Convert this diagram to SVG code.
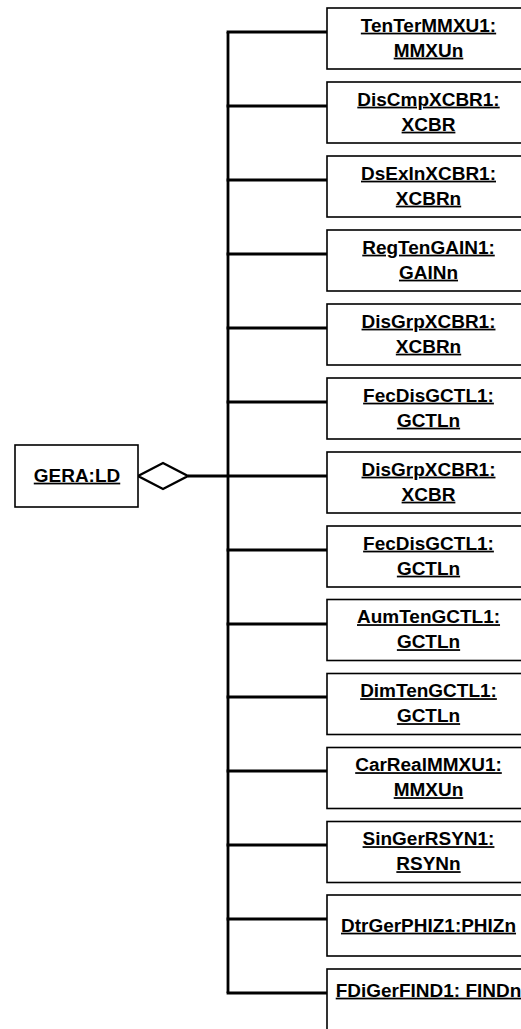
<svg xmlns="http://www.w3.org/2000/svg" width="521" height="1029" viewBox="0 0 521 1029">
<style>
.box{fill:#fff;stroke:#000;stroke-width:1.6}
.lbl{font-family:"Liberation Sans",Arial,sans-serif;font-weight:bold;font-size:17.5px;fill:#000;text-anchor:middle;text-decoration:underline}
.con{stroke:#000;stroke-width:2.8;fill:none}
</style>
<g id="connectors">
<line class="con" x1="228" y1="32" x2="228" y2="993"/>
<line class="con" x1="226.6" y1="32" x2="327" y2="32"/>
<line class="con" x1="226.6" y1="106" x2="327" y2="106"/>
<line class="con" x1="226.6" y1="180" x2="327" y2="180"/>
<line class="con" x1="226.6" y1="254" x2="327" y2="254"/>
<line class="con" x1="226.6" y1="328" x2="327" y2="328"/>
<line class="con" x1="226.6" y1="402" x2="327" y2="402"/>
<line class="con" x1="188" y1="476" x2="327" y2="476"/>
<line class="con" x1="226.6" y1="550" x2="327" y2="550"/>
<line class="con" x1="226.6" y1="624" x2="327" y2="624"/>
<line class="con" x1="226.6" y1="697" x2="327" y2="697"/>
<line class="con" x1="226.6" y1="771" x2="327" y2="771"/>
<line class="con" x1="226.6" y1="845" x2="327" y2="845"/>
<line class="con" x1="226.6" y1="919" x2="327" y2="919"/>
<line class="con" x1="226.6" y1="993" x2="327" y2="993"/>
<polygon points="138,476 163,463 188,476 163,489" fill="#fff" stroke="#000" stroke-width="2.4" stroke-linejoin="miter"/>
</g>
<g id="gera">
<rect class="box" x="15" y="445" width="123" height="62"/>
<text class="lbl" transform="translate(77,481.7) scale(1.085,1)">GERA:LD</text>
</g>
<g id="n1">
<rect class="box" x="327" y="8" width="204" height="61"/>
<text class="lbl" transform="translate(428.5,31.7) scale(1.085,1)">TenTerMMXU1:</text>
<text class="lbl" transform="translate(428.5,56.7) scale(1.085,1)">MMXUn</text>
</g>
<g id="n2">
<rect class="box" x="327" y="82" width="204" height="61"/>
<text class="lbl" transform="translate(428.5,105.7) scale(1.085,1)">DisCmpXCBR1:</text>
<text class="lbl" transform="translate(428.5,130.7) scale(1.085,1)">XCBR</text>
</g>
<g id="n3">
<rect class="box" x="327" y="156" width="204" height="61"/>
<text class="lbl" transform="translate(428.5,179.7) scale(1.085,1)">DsExInXCBR1:</text>
<text class="lbl" transform="translate(428.5,204.7) scale(1.085,1)">XCBRn</text>
</g>
<g id="n4">
<rect class="box" x="327" y="230" width="204" height="61"/>
<text class="lbl" transform="translate(428.5,253.7) scale(1.085,1)">RegTenGAIN1:</text>
<text class="lbl" transform="translate(428.5,278.7) scale(1.085,1)">GAINn</text>
</g>
<g id="n5">
<rect class="box" x="327" y="304" width="204" height="61"/>
<text class="lbl" transform="translate(428.5,327.7) scale(1.085,1)">DisGrpXCBR1:</text>
<text class="lbl" transform="translate(428.5,352.7) scale(1.085,1)">XCBRn</text>
</g>
<g id="n6">
<rect class="box" x="327" y="378" width="204" height="61"/>
<text class="lbl" transform="translate(428.5,401.7) scale(1.085,1)">FecDisGCTL1:</text>
<text class="lbl" transform="translate(428.5,426.7) scale(1.085,1)">GCTLn</text>
</g>
<g id="n7">
<rect class="box" x="327" y="452" width="204" height="61"/>
<text class="lbl" transform="translate(428.5,475.7) scale(1.085,1)">DisGrpXCBR1:</text>
<text class="lbl" transform="translate(428.5,500.7) scale(1.085,1)">XCBR</text>
</g>
<g id="n8">
<rect class="box" x="327" y="526" width="204" height="61"/>
<text class="lbl" transform="translate(428.5,549.7) scale(1.085,1)">FecDisGCTL1:</text>
<text class="lbl" transform="translate(428.5,574.7) scale(1.085,1)">GCTLn</text>
</g>
<g id="n9">
<rect class="box" x="327" y="599.5" width="204" height="61"/>
<text class="lbl" transform="translate(428.5,623.2) scale(1.085,1)">AumTenGCTL1:</text>
<text class="lbl" transform="translate(428.5,648.2) scale(1.085,1)">GCTLn</text>
</g>
<g id="n10">
<rect class="box" x="327" y="673.5" width="204" height="61"/>
<text class="lbl" transform="translate(428.5,697.2) scale(1.085,1)">DimTenGCTL1:</text>
<text class="lbl" transform="translate(428.5,722.2) scale(1.085,1)">GCTLn</text>
</g>
<g id="n11">
<rect class="box" x="327" y="747.5" width="204" height="61"/>
<text class="lbl" transform="translate(428.5,771.2) scale(1.085,1)">CarRealMMXU1:</text>
<text class="lbl" transform="translate(428.5,796.2) scale(1.085,1)">MMXUn</text>
</g>
<g id="n12">
<rect class="box" x="327" y="821.5" width="204" height="61"/>
<text class="lbl" transform="translate(428.5,845.2) scale(1.085,1)">SinGerRSYN1:</text>
<text class="lbl" transform="translate(428.5,870.2) scale(1.085,1)">RSYNn</text>
</g>
<g id="n13">
<rect class="box" x="327" y="895" width="204" height="61"/>
<text class="lbl" transform="translate(428.5,931.7) scale(1.085,1)">DtrGerPHIZ1:PHIZn</text>
</g>
<g id="n14">
<rect class="box" x="327" y="969" width="204" height="61"/>
<text class="lbl" transform="translate(428.5,996.7) scale(1.085,1)">FDiGerFIND1: FINDn</text>
</g>
</svg>
